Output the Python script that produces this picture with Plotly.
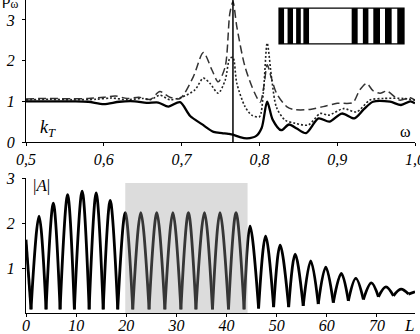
import plotly.graph_objects as go

# ---------------- top panel data ----------------
omega_solid = [0.50, 0.53, 0.56, 0.58, 0.60, 0.62, 0.64, 0.655, 0.67, 0.683, 0.698, 0.711, 0.726,
               0.741, 0.752, 0.760, 0.766, 0.775, 0.784, 0.796, 0.803, 0.810, 0.817, 0.828, 0.838,
               0.848, 0.860, 0.876, 0.890, 0.906, 0.922, 0.934, 0.946, 0.968, 0.982, 0.994, 1.0]
rho_solid = [1.0, 1.0, 1.0, 0.99, 0.93, 0.99, 1.0, 0.96, 0.97, 0.87, 0.98, 0.64, 0.44,
             0.25, 0.22, 0.20, 0.18, 0.12, 0.09, 0.15, 0.35, 0.99, 0.55, 0.29, 0.43,
             0.33, 0.22, 0.58, 0.50, 0.70, 0.58, 0.80, 0.99, 0.99, 0.91, 1.0, 0.95]

omega_dash = [0.50, 0.53, 0.56, 0.58, 0.60, 0.615, 0.63, 0.645, 0.66, 0.672, 0.685, 0.698, 0.715,
              0.728, 0.739, 0.747, 0.756, 0.762, 0.766, 0.771, 0.7815, 0.794, 0.801, 0.806, 0.810,
              0.815, 0.822, 0.835, 0.844, 0.865, 0.882, 0.90, 0.92, 0.929, 0.938, 0.946, 0.955,
              0.964, 0.98, 0.994, 1.0]
rho_dash = [1.06, 1.07, 1.06, 1.07, 1.10, 1.13, 1.07, 1.10, 1.05, 1.24, 1.10, 1.07, 1.60,
            2.20, 1.77, 1.48, 1.85, 3.16, 3.45, 2.83, 1.85, 1.20, 0.98, 1.40, 1.90,
            1.60, 1.20, 0.87, 0.80, 0.80, 0.87, 0.95, 0.97, 1.28, 1.44, 1.26, 1.20,
            1.25, 1.03, 1.09, 1.03]

omega_dot = [0.50, 0.53, 0.56, 0.59, 0.61, 0.63, 0.65, 0.66, 0.672, 0.685, 0.70, 0.717, 0.728,
             0.7365, 0.747, 0.756, 0.762, 0.766, 0.771, 0.7815, 0.79, 0.80, 0.805, 0.810, 0.816,
             0.822, 0.833, 0.846, 0.863, 0.878, 0.889, 0.908, 0.925, 0.942, 0.96, 0.985, 1.0]
rho_dot = [1.04, 1.05, 1.04, 1.05, 1.08, 1.04, 1.07, 1.04, 1.15, 1.04, 1.10, 1.28, 1.57,
           1.44, 1.20, 1.52, 2.06, 2.08, 1.44, 0.87, 0.66, 0.62, 1.20, 2.43, 1.52,
           0.85, 0.54, 0.46, 0.42, 0.70, 0.66, 0.82, 0.74, 1.03, 1.07, 1.07, 1.03]

omega_marker = 0.766
x_ticks_top = [0.5, 0.6, 0.7, 0.8, 0.9, 1.0]
x_labels_top = ["0,5", "0,6", "0,7", "0,8", "0,9", "1,0"]
y_ticks_top = [0, 1, 2, 3]

# inset "barcode" (layer structure), in omega / rho units of the top panel
inset_box = [0.8252, 0.9859, 2.41, 3.29]
bar_left = [0.8252, 0.8362, 0.8472, 0.8565, 0.9186, 0.9330, 0.9464, 0.9614, 0.9772]
bar_right = [0.8317, 0.8432, 0.8532, 0.8638, 0.9263, 0.9401, 0.9550, 0.9700, 0.9859]

# ---------------- bottom panel data ----------------
L_start, A_start = 0.0, 1.63
L_min = [1.0, 4.0, 6.8, 9.65, 12.6, 15.4, 18.3, 21.3, 24.55, 27.7, 30.9, 33.9, 37.2, 40.4,
         43.5, 46.4, 49.4, 52.4, 55.3, 58.3, 61.3, 64.3, 67.3, 70.3, 73.3, 76.3]
A_min = [0.08, 0.08, 0.08, 0.08, 0.08, 0.08, 0.08, 0.08, 0.08, 0.08, 0.08, 0.08, 0.08, 0.08,
         0.08, 0.10, 0.13, 0.13, 0.16, 0.20, 0.23, 0.27, 0.30, 0.36, 0.38, 0.42]
L_peak = [2.6, 5.45, 8.3, 11.2, 14.0, 16.8, 19.8, 22.9, 26.1, 29.3, 32.4, 35.6, 38.7, 41.9,
          44.7, 47.8, 50.7, 53.7, 56.8, 59.8, 62.9, 65.8, 68.9, 71.8, 74.8]
A_peak = [2.15, 2.44, 2.63, 2.71, 2.67, 2.50, 2.23, 2.23, 2.23, 2.23, 2.23, 2.23, 2.23, 2.23,
          1.93, 1.71, 1.51, 1.31, 1.16, 1.02, 0.88, 0.77, 0.67, 0.58, 0.53]
L_end, A_end = 77.6, 0.47
shade_L = [19.8, 44.2]
shade_top = 2.89
x_ticks_bot = [0, 10, 20, 30, 40, 50, 60, 70]
y_ticks_bot = [1, 2, 3]

# build arches (min -> peak -> min), each smoothed on its own
xs = [L_start, L_min[0], None]
ys = [A_start, A_min[0], None]
for i in range(len(L_peak)):
    xs += [L_min[i], L_peak[i], L_min[i + 1], None]
    ys += [A_min[i], A_peak[i], A_min[i + 1], None]
xs += [L_min[-1], L_end]
ys += [A_min[-1], A_end]


def ital(vals):
    return ["<i>%s</i>" % v for v in vals]


FONT = "Liberation Serif, Times New Roman, serif"
fig = go.Figure()

fig.add_trace(go.Scatter(x=omega_dash, y=rho_dash, mode="lines", xaxis="x", yaxis="y",
                         line=dict(color="#333", width=1.5, dash="8px,4px", shape="spline", smoothing=0.8)))
fig.add_trace(go.Scatter(x=omega_dot, y=rho_dot, mode="lines", xaxis="x", yaxis="y",
                         line=dict(color="#222", width=1.6, dash="2px,2px", shape="spline", smoothing=0.8)))
fig.add_trace(go.Scatter(x=omega_solid, y=rho_solid, mode="lines", xaxis="x", yaxis="y",
                         line=dict(color="black", width=2.3, shape="spline", smoothing=0.8)))
fig.add_trace(go.Scatter(x=xs, y=ys, mode="lines", xaxis="x2", yaxis="y2", connectgaps=False,
                         line=dict(color="black", width=2.8, shape="spline", smoothing=1.0)))

shapes = []
shapes.append(dict(type="line", xref="x", yref="y", x0=omega_marker, x1=omega_marker, y0=0, y1=3.49,
                   line=dict(color="black", width=1.5)))
shapes.append(dict(type="rect", xref="x", yref="y", x0=inset_box[0], x1=inset_box[1],
                   y0=inset_box[2], y1=inset_box[3], line=dict(color="black", width=1.2),
                   fillcolor="white"))
for a, b in zip(bar_left, bar_right):
    shapes.append(dict(type="rect", xref="x", yref="y", x0=a, x1=b, y0=inset_box[2], y1=inset_box[3],
                       line=dict(width=0), fillcolor="black"))
shapes.append(dict(type="rect", xref="x2", yref="y2", x0=shade_L[0], x1=shade_L[1], y0=0, y1=shade_top,
                   line=dict(width=0), fillcolor="rgba(156,156,156,0.35)", layer="above"))

tickfont = dict(family=FONT, size=16, color="black")
axis_common = dict(showgrid=False, zeroline=False, showline=True, linecolor="black", linewidth=1.2,
                   ticks="outside", ticklen=3, tickcolor="black", automargin=False, tickfont=tickfont)

fig.update_layout(
    width=420, height=334,
    margin=dict(l=26, r=5, t=0, b=21, autoexpand=False),
    paper_bgcolor="white", plot_bgcolor="white",
    showlegend=False,
    font=dict(family=FONT, color="black"),
    shapes=shapes,
    xaxis=dict(domain=[0, 1], range=[0.5, 1.0], anchor="y", tickvals=x_ticks_top,
               ticktext=ital(x_labels_top), ticklabeloverflow="allow", **axis_common),
    yaxis=dict(domain=[0.5463, 1], range=[0, 3.49], anchor="x", tickvals=y_ticks_top,
               ticktext=ital(y_ticks_top), ticklabelstandoff=4, **axis_common),
    xaxis2=dict(domain=[0, 1], range=[0, 77.6], anchor="y2", tickvals=x_ticks_bot,
                ticktext=ital(x_ticks_bot), ticklabelstandoff=-5, **axis_common),
    yaxis2=dict(domain=[0, 0.4313], range=[0, 3.0], anchor="x2", tickvals=y_ticks_bot,
                ticktext=ital(y_ticks_bot), ticklabelstandoff=4, **axis_common),
    annotations=[
        dict(text="ρ<sub>ω</sub>", xref="paper", yref="paper", x=-0.066, y=1.0, xanchor="left",
             yanchor="middle", showarrow=False, font=dict(family=FONT, size=17, color="black")),
        dict(text="<i>k</i><sub><i>T</i></sub>", xref="x", yref="y", x=0.528, y=0.32,
             showarrow=False, font=dict(family=FONT, size=18, color="black")),
        dict(text="ω", xref="x", yref="y", x=0.988, y=0.27, showarrow=False,
             font=dict(family=FONT, size=16, color="black")),
        dict(text="|<i>A</i>|", xref="x2", yref="y2", x=3.0, y=2.84, showarrow=False,
             font=dict(family=FONT, size=17, color="black")),
        dict(text="<i>L</i>", xref="x2", yref="paper", x=76.4, y=0, xanchor="center",
             yanchor="middle", yshift=-12, showarrow=False,
             font=dict(family=FONT, size=17, color="black")),
    ],
)

fig.write_html("out.html", post_script="document.body.style.margin='0';document.body.style.overflow='hidden';",
               config={"displayModeBar": False})
